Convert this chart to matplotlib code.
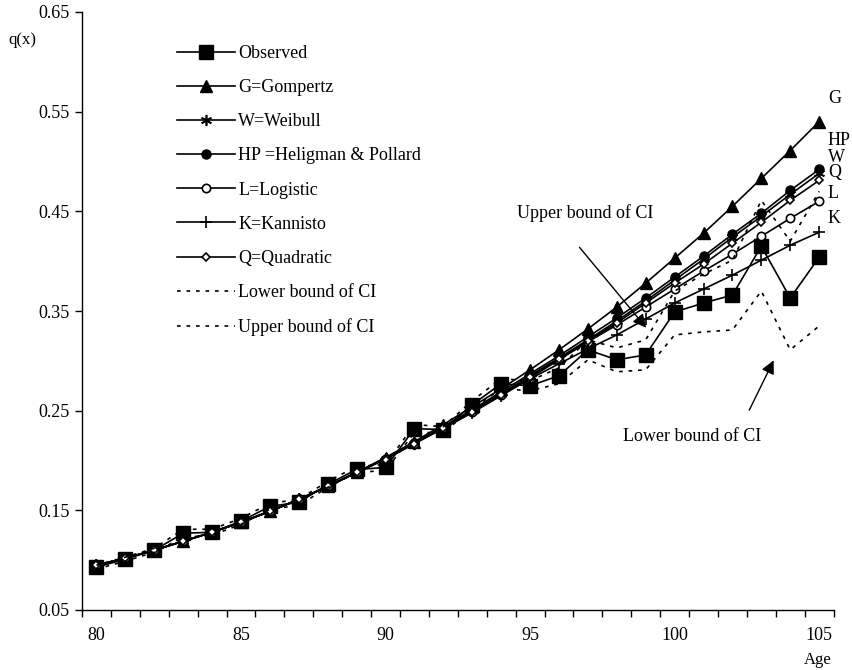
import matplotlib
matplotlib.use("Agg")
import matplotlib.pyplot as plt
import numpy as np

plt.rcParams['font.family'] = ['Liberation Serif', 'DejaVu Serif']

ages = list(range(80, 106))
observed = [0.093, 0.101, 0.110, 0.127, 0.128, 0.139, 0.154, 0.158, 0.176, 0.191,
            0.193, 0.232, 0.231, 0.256, 0.277, 0.275, 0.285, 0.311, 0.301, 0.306,
            0.349, 0.358, 0.366, 0.415, 0.363, 0.404]
gompertz = [0.095, 0.102, 0.110, 0.119, 0.128, 0.138, 0.149, 0.161, 0.174, 0.188,
            0.203, 0.219, 0.236, 0.254, 0.272, 0.291, 0.311, 0.332, 0.354, 0.378,
            0.403, 0.428, 0.455, 0.483, 0.511, 0.540]
weibull = [0.095, 0.102, 0.110, 0.119, 0.128, 0.138, 0.149, 0.161, 0.174, 0.188,
           0.202, 0.217, 0.233, 0.250, 0.267, 0.285, 0.303, 0.321, 0.340, 0.360,
           0.381, 0.402, 0.424, 0.445, 0.467, 0.488]
hp = [0.095, 0.102, 0.110, 0.119, 0.128, 0.138, 0.149, 0.161, 0.174, 0.188,
      0.202, 0.218, 0.234, 0.251, 0.269, 0.287, 0.305, 0.324, 0.343, 0.363,
      0.384, 0.405, 0.427, 0.448, 0.471, 0.492]
logistic = [0.095, 0.102, 0.110, 0.119, 0.128, 0.138, 0.149, 0.161, 0.174, 0.188,
            0.202, 0.217, 0.233, 0.249, 0.266, 0.283, 0.301, 0.319, 0.336, 0.354,
            0.372, 0.390, 0.407, 0.425, 0.443, 0.460]
kannisto = [0.095, 0.102, 0.110, 0.119, 0.128, 0.138, 0.149, 0.161, 0.174, 0.188,
            0.202, 0.217, 0.232, 0.248, 0.265, 0.282, 0.297, 0.312, 0.326, 0.342,
            0.358, 0.372, 0.386, 0.401, 0.416, 0.429]
quadratic = [0.095, 0.102, 0.110, 0.119, 0.128, 0.138, 0.149, 0.161, 0.174, 0.188,
             0.201, 0.217, 0.233, 0.249, 0.266, 0.284, 0.302, 0.320, 0.338, 0.358,
             0.378, 0.397, 0.418, 0.439, 0.461, 0.481]
lower_ci = [0.091, 0.099, 0.108, 0.123, 0.125, 0.136, 0.151, 0.155, 0.173, 0.188,
            0.190, 0.228, 0.228, 0.252, 0.272, 0.270, 0.277, 0.301, 0.289, 0.291,
            0.326, 0.329, 0.331, 0.370, 0.311, 0.335]
upper_ci = [0.095, 0.103, 0.112, 0.131, 0.131, 0.142, 0.157, 0.161, 0.179, 0.194,
            0.196, 0.236, 0.234, 0.260, 0.282, 0.280, 0.293, 0.321, 0.313, 0.321,
            0.370, 0.387, 0.401, 0.461, 0.420, 0.470]

end_labels = ['G', 'HP', 'W', 'Q', 'L', 'K']
end_label_y = [0.5635, 0.5214, 0.5044, 0.4894, 0.4683, 0.4432]
x_ticks = [80, 85, 90, 95, 100, 105]
y_ticks = [0.05, 0.15, 0.25, 0.35, 0.45, 0.55, 0.65]

fig = plt.figure(figsize=(8.53, 6.70), dpi=100)
ax = fig.add_axes([82/853, 1-610/670, (833.6-82)/853, (610-12)/670])

lw = 1.2
ax.plot(ages, observed, color='black', lw=lw, marker='s', ms=10.5, mfc='black', mec='black', label='Observed')
ax.plot(ages, gompertz, color='black', lw=lw, marker='^', ms=8, mfc='black', mec='black', label='G=Gompertz')
ax.plot(ages, weibull, color='black', lw=lw, marker=(6, 2, 0), ms=8, mec='black', mew=1.2, label='W=Weibull')
ax.plot(ages, hp, color='black', lw=lw, marker='o', ms=6.5, mfc='black', mec='black', label='HP =Heligman & Pollard')
ax.plot(ages, logistic, color='black', lw=lw, marker='o', ms=6, mfc='white', mec='black', mew=1.2, label='L=Logistic')
ax.plot(ages, kannisto, color='black', lw=lw, marker='+', ms=8, mec='black', mew=1.2, label='K=Kannisto')
ax.plot(ages, quadratic, color='black', lw=lw, marker='D', ms=4.5, mfc='white', mec='black', mew=1.2, label='Q=Quadratic')
ax.plot(ages, lower_ci, color='black', lw=lw, ls=(0, (2.2, 3.5)), label='Lower bound of CI')
ax.plot(ages, upper_ci, color='black', lw=lw, ls=(0, (2.2, 3.5)), label='Upper bound of CI')

ax.set_xlim(79.5, 105.5)
ax.set_ylim(0.05, 0.65)
ax.set_yticks(y_ticks)
ax.set_yticklabels([f"{v:.2f}" for v in y_ticks])
ax.set_xticks(x_ticks)
ax.set_xticklabels([str(v) for v in x_ticks])
ax.set_xticks(np.arange(79.5, 105.6, 1.0), minor=True)
ax.tick_params(axis='x', which='major', length=0, pad=12, labelsize=13)
ax.tick_params(axis='x', which='minor', length=5, width=1, direction='out')
ax.tick_params(axis='y', which='major', length=5, width=1, direction='out', labelsize=13, pad=4)
for s in ['top', 'right']:
    ax.spines[s].set_visible(False)
for s in ['left', 'bottom']:
    ax.spines[s].set_linewidth(1)

for lab, yv in zip(end_labels, end_label_y):
    ax.text(105.3, yv, lab, fontsize=13, ha='left', va='center', clip_on=False)

ax.annotate('', xy=(99.08, 0.331), xytext=(96.65, 0.416),
            arrowprops=dict(arrowstyle='-|>', color='black', lw=1, mutation_scale=20))
ax.text(96.9, 0.448, 'Upper bound of CI', fontsize=13, ha='center', va='center')
ax.annotate('', xy=(103.47, 0.303), xytext=(102.54, 0.248),
            arrowprops=dict(arrowstyle='-|>', color='black', lw=1, mutation_scale=20))
ax.text(100.6, 0.224, 'Lower bound of CI', fontsize=13, ha='center', va='center')

fig.text(22/853, 1-40/670, 'q(x)', fontsize=12, ha='center', va='center')
fig.text(818/853, 1-660/670, 'Age', fontsize=12, ha='center', va='center')

leg = ax.legend(loc='upper left', bbox_to_anchor=(177/853, 1-45/670), bbox_transform=fig.transFigure,
                frameon=False, fontsize=13, handlelength=3.2, handletextpad=0.2,
                labelspacing=0.95, borderpad=0, borderaxespad=0)

fig.savefig('out.png', dpi=100)
